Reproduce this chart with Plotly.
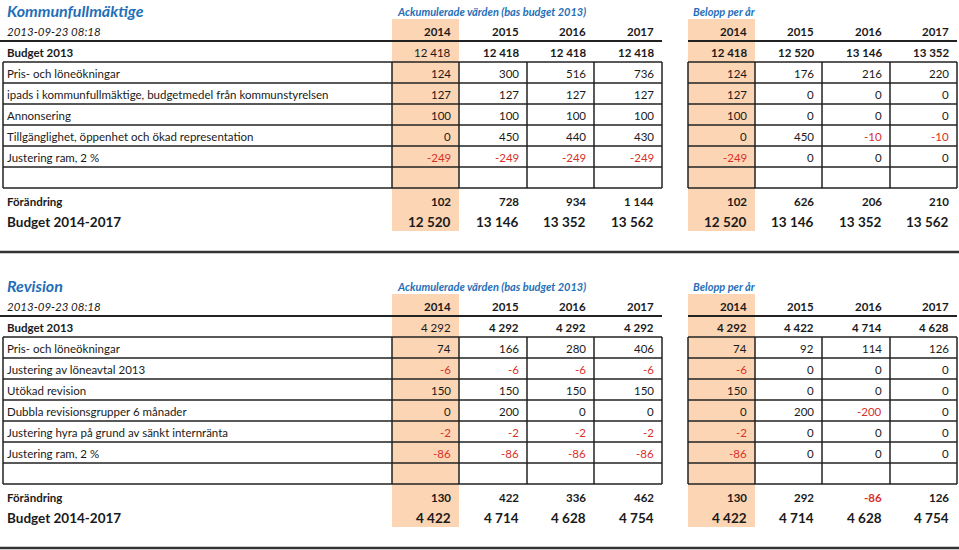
import plotly.graph_objects as go

# ---------------- data ----------------
years = ["2014", "2015", "2016", "2017"]
date_text = "2013-09-23 08:18"
block_titles = ["Ackumulerade värden (bas budget 2013)", "Belopp per år"]

# Section 1: Kommunfullmäktige
s1_title = "Kommunfullmäktige"
s1_budget13_acc = [12418, 12418, 12418, 12418]
s1_budget13_yr = [12418, 12520, 13146, 13352]
s1_labels = [
    "Pris- och löneökningar",
    "ipads i kommunfullmäktige, budgetmedel från kommunstyrelsen",
    "Annonsering",
    "Tillgänglighet, öppenhet och ökad representation",
    "Justering ram, 2 %",
]
s1_acc = [
    [124, 300, 516, 736],
    [127, 127, 127, 127],
    [100, 100, 100, 100],
    [0, 450, 440, 430],
    [-249, -249, -249, -249],
]
s1_yr = [
    [124, 176, 216, 220],
    [127, 0, 0, 0],
    [100, 0, 0, 0],
    [0, 450, -10, -10],
    [-249, 0, 0, 0],
]
s1_change_acc = [102, 728, 934, 1144]
s1_change_yr = [102, 626, 206, 210]
s1_budget_acc = [12520, 13146, 13352, 13562]
s1_budget_yr = [12520, 13146, 13352, 13562]

# Section 2: Revision
s2_title = "Revision"
s2_budget13_acc = [4292, 4292, 4292, 4292]
s2_budget13_yr = [4292, 4422, 4714, 4628]
s2_labels = [
    "Pris- och löneökningar",
    "Justering av löneavtal 2013",
    "Utökad revision",
    "Dubbla revisionsgrupper 6 månader",
    "Justering hyra på grund av sänkt internränta",
    "Justering ram, 2 %",
]
s2_acc = [
    [74, 166, 280, 406],
    [-6, -6, -6, -6],
    [150, 150, 150, 150],
    [0, 200, 0, 0],
    [-2, -2, -2, -2],
    [-86, -86, -86, -86],
]
s2_yr = [
    [74, 92, 114, 126],
    [-6, 0, 0, 0],
    [150, 0, 0, 0],
    [0, 200, -200, 0],
    [-2, 0, 0, 0],
    [-86, 0, 0, 0],
]
s2_change_acc = [130, 422, 336, 462]
s2_change_yr = [130, 292, -86, 126]
s2_budget_acc = [4422, 4714, 4628, 4754]
s2_budget_yr = [4422, 4714, 4628, 4754]

# ---------------- styling / geometry ----------------
W, H = 959, 550
FONT = "Lato, 'Open Sans', sans-serif"
BLUE = "#1F6FB8"
RED = "#D9302A"
TXT = "#1a1a1a"
SHADE = "#FCD5B4"
LINE = "#222222"

label_left = 3
block_edges = [[392, 459, 527, 594, 662], [688, 755, 822, 890, 957]]
row_h = 21
FS = 11.5

fig = go.Figure()
shapes = []
ann = []


def fmt(v):
    s = f"{abs(v):,}".replace(",", " ")
    return ("-" if v < 0 else "") + s


def text(x, y, s, size=FS, bold=False, italic=False, color=TXT, anchor="left"):
    t = f"<b>{s}</b>" if bold else s
    t = f"<i>{t}</i>" if italic else t
    ann.append(dict(x=x, y=y, xref="x", yref="y", text=t, showarrow=False,
                    xanchor=anchor, yanchor="middle",
                    font=dict(family=FONT, size=size, color=color)))


def hline(x0, x1, y, w=1.5, color=LINE):
    shapes.append(dict(type="line", x0=x0, x1=x1, y0=y, y1=y, xref="x", yref="y",
                       line=dict(color=color, width=w), layer="above"))


def vline(x, y0, y1, w=1.5, color=LINE):
    shapes.append(dict(type="line", x0=x, x1=x, y0=y0, y1=y1, xref="x", yref="y",
                       line=dict(color=color, width=w), layer="above"))


def section(top, title, b13_acc, b13_yr, labels, acc, yr, ch_acc, ch_yr, bud_acc, bud_yr):
    box_top = top + 62
    n_rows = len(labels) + 1
    box_bot = box_top + n_rows * row_h
    shade_top = top + 19
    shade_bot = box_bot + 43
    for edges in block_edges:
        shapes.append(dict(type="rect", x0=edges[0], x1=edges[1], y0=shade_top, y1=shade_bot,
                           xref="x", yref="y", fillcolor=SHADE, line=dict(width=0), layer="below"))
    text(5, top + 10, title, size=16, bold=True, italic=True, color=BLUE)
    for edges, bt in zip(block_edges, block_titles):
        text(edges[0] + 3, top + 11, bt, size=11, bold=True, italic=True, color=BLUE)
    text(5, top + 31, date_text, italic=True)
    for edges in block_edges:
        for i, yv in enumerate(years):
            text(edges[i + 1] - 6, top + 31, yv, bold=True, anchor="right")
    hline(0, block_edges[0][-1], top + 41, w=2)
    hline(block_edges[1][0], block_edges[1][-1], top + 41, w=2)
    text(5, top + 52, "Budget 2013", bold=True)
    for b, (edges, vals) in enumerate(zip(block_edges, [b13_acc, b13_yr])):
        for i, v in enumerate(vals):
            bold = not (b == 0 and i == 0)
            text(edges[i + 1] - 6, top + 52, fmt(v), bold=bold, anchor="right")
    for r, lab in enumerate(labels):
        yc = box_top + r * row_h + row_h / 2 + 1
        text(5, yc, lab)
        for edges, vals in zip(block_edges, [acc[r], yr[r]]):
            for i, v in enumerate(vals):
                text(edges[i + 1] - 6, yc, fmt(v),
                     color=RED if v < 0 else TXT, anchor="right")
    for r in range(n_rows + 1):
        y = box_top + r * row_h
        hline(label_left, block_edges[0][-1], y)
        hline(block_edges[1][0], block_edges[1][-1], y)
    vline(label_left, box_top, box_bot)
    for edges in block_edges:
        for x in edges:
            vline(x, box_top, box_bot)
    yc = box_bot + 13
    text(5, yc, "Förändring", bold=True)
    for edges, vals in zip(block_edges, [ch_acc, ch_yr]):
        for i, v in enumerate(vals):
            text(edges[i + 1] - 6, yc, fmt(v), bold=True,
                 color=RED if v < 0 else TXT, anchor="right")
    yc = box_bot + 34
    text(5, yc, "Budget 2014-2017", size=13.5, bold=True)
    for edges, vals in zip(block_edges, [bud_acc, bud_yr]):
        for i, v in enumerate(vals):
            text(edges[i + 1] - 6, yc, fmt(v), size=13.5, bold=True, anchor="right")
    hline(0, W, box_bot + 64, w=2.5, color="#333333")


section(0, s1_title, s1_budget13_acc, s1_budget13_yr, s1_labels, s1_acc, s1_yr,
        s1_change_acc, s1_change_yr, s1_budget_acc, s1_budget_yr)
section(275, s2_title, s2_budget13_acc, s2_budget13_yr, s2_labels, s2_acc, s2_yr,
        s2_change_acc, s2_change_yr, s2_budget_acc, s2_budget_yr)

fig.add_trace(go.Scatter(x=[0, W], y=[0, H], mode="markers",
                         marker=dict(opacity=0), hoverinfo="skip", showlegend=False))
fig.update_layout(
    width=W, height=H, margin=dict(l=0, r=0, t=0, b=0),
    paper_bgcolor="white", plot_bgcolor="white",
    xaxis=dict(range=[0, W], visible=False, fixedrange=True),
    yaxis=dict(range=[H, 0], visible=False, fixedrange=True),
    shapes=shapes, annotations=ann, showlegend=False,
)
fig.write_html("out.html", config={"displayModeBar": False},
               post_script="document.body.style.margin='0';document.body.style.overflow='hidden';")
